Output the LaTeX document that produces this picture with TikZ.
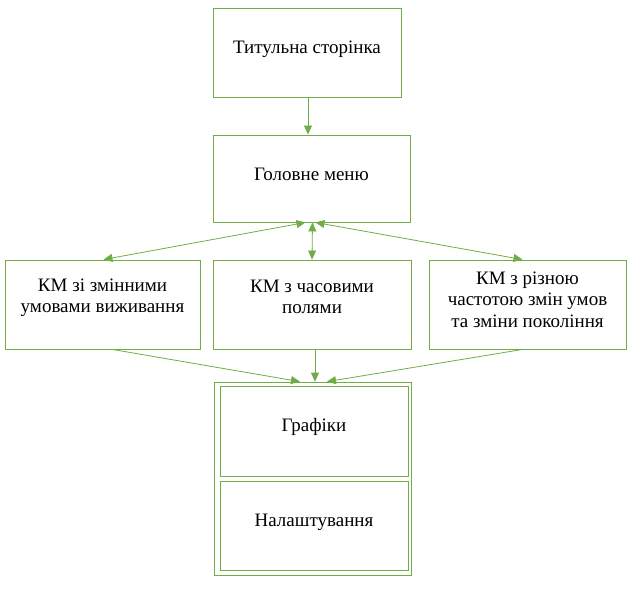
\documentclass[tikz,border=0pt]{standalone}
\usepackage{fontspec}
\setmainfont{Liberation Serif}
\usetikzlibrary{positioning,arrows.meta}
\definecolor{boxgreen}{HTML}{70AD47}
\tikzset{%
box/.style={draw=boxgreen,line width=0.9pt,rectangle,inner sep=0,minimum width=#1,minimum height=89pt},
box/.default=188pt,
txt/.style={font=\fontsize{19}{21.5}\selectfont,align=center,inner sep=0},
link/.style={draw=boxgreen,line width=0.8pt,-{Triangle[length=9pt,width=8pt]}},
dlink/.style={draw=boxgreen,line width=0.8pt,{Triangle[length=9pt,width=8pt]}-{Triangle[length=9pt,width=8pt]}}
}

\begin{document}
\begin{tikzpicture}[x=1pt,y=-1pt]

    \useasboundingbox (0,0) rectangle (638,592);

    \node[box] (title) at (307,52.5) {};
    \node[box=197pt,minimum height=87pt] (menu) at (311.5,178.5) {};
    \node[box=195pt] (left) at (102.5,304.5) {};
    \node[box=198pt] (mid) at (312,304.5) {};
    \node[box=197pt] (right) at (527.5,304.5) {};
    \node[box=197pt,minimum height=193pt,line width=0.7pt] (outer) at (313,478.5) {};
    \node[box=188pt,minimum height=90pt] (plots) at (314,431) {};
    \node[box=188pt,minimum height=89pt] (setup) at (314,525.5) {};

    \node[txt] (titletxt) at (307,49) {Титульна сторінка};
    \node[txt] (menutxt) at (311.5,174) {Головне меню};
    \node[txt] (lefttxt) at (102.5,298) {КМ зі змінними\\умовами виживання};
    \node[txt] (midtxt) at (312,297) {КМ з часовими\\полями};
    \node[txt] (righttxt) at (527.5,299.5) {КМ з різною\\частотою змін умов\\та зміни покоління};
    \node[txt] (plotstxt) at (314,427) {Графіки};
    \node[txt] (setuptxt) at (314,522) {Налаштування};

    \path ([xshift=1pt]title.south) edge[link] ([xshift=-3.5pt]menu.north);
    \path ([xshift=-6pt]menu.south) edge[dlink] ([xshift=1pt]left.north)
          ([xshift=1pt]menu.south) edge[dlink] ([xshift=0pt]mid.north)
          ([xshift=4pt]menu.south) edge[dlink] ([xshift=-5pt]right.north);
    \path ([xshift=10pt]left.south) edge[link] ([xshift=-13pt]outer.north)
          ([xshift=3pt]mid.south) edge[link] ([xshift=2pt]outer.north)
          ([xshift=-5pt]right.south) edge[link] ([xshift=14pt]outer.north);

\end{tikzpicture}
\end{document}
